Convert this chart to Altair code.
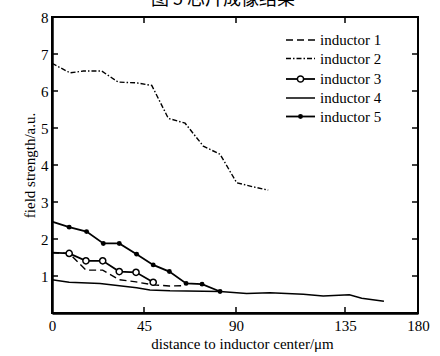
import altair as alt
import pandas as pd

title_text = "图 5 芯片成像结果"
series_names = ["inductor 1", "inductor 2", "inductor 3", "inductor 4", "inductor 5"]

x1 = [0, 8.4, 16.6, 24.8, 32.9, 41.1, 49.5, 57.4, 64.5]
y1 = [1.63, 1.61, 1.16, 1.16, 0.90, 0.84, 0.76, 0.73, 0.74]
x2 = [0, 8.8, 15.3, 24.3, 32.4, 41.4, 48.8, 56.9, 65.1, 74.0, 82.2, 90.3, 97.1, 103.3]
y2 = [6.75, 6.49, 6.54, 6.54, 6.24, 6.22, 6.15, 5.26, 5.13, 4.51, 4.29, 3.52, 3.41, 3.32]
x3 = [0, 8.4, 16.6, 24.8, 32.9, 41.1, 49.5]
y3 = [1.63, 1.61, 1.41, 1.41, 1.12, 1.10, 0.83]
x4 = [0, 8.4, 23.5, 41.4, 47.9, 57.7, 82.2, 94.4, 104, 117.8, 126, 137.7, 145.3, 159]
y4 = [0.90, 0.83, 0.80, 0.68, 0.62, 0.60, 0.58, 0.53, 0.55, 0.51, 0.46, 0.49, 0.40, 0.32]
x5 = [0, 8.4, 16.9, 25.1, 32.9, 41.4, 49.5, 57.4, 65.6, 73.4, 82.2]
y5 = [2.47, 2.32, 2.20, 1.88, 1.88, 1.59, 1.30, 1.12, 0.80, 0.78, 0.58]

x_tick_values = [0, 45, 90, 135, 180]
y_tick_values = [1, 2, 3, 4, 5, 6, 7, 8]
x_inner_ticks = [45, 90, 135]
y_inner_ticks = [1, 2, 3, 4, 5, 6, 7]

W, H = 366, 296
FONT = "'Liberation Serif', 'Times New Roman', Times, serif"

xs = [x1, x2, x3, x4, x5]
ys = [y1, y2, y3, y4, y5]
frames = {n: pd.DataFrame({"x": xv, "y": yv, "series": n}) for n, xv, yv in zip(series_names, xs, ys)}

xscale = alt.Scale(domain=x_tick_values, range=[0, 92, 184, 293, 366], nice=False, zero=False)
yscale = alt.Scale(domain=[0, 8], nice=False, zero=False)
xaxis = alt.Axis(values=x_tick_values, title="distance to inductor center/μm", labelPadding=5,
                 titlePadding=3, labelFlush=False, format="d", titleX=190)
yaxis = alt.Axis(values=y_tick_values, title="field strength/a.u.", labelPadding=4,
                 titlePadding=3, format="d")


def X(field="x"):
    return alt.X(f"{field}:Q", scale=xscale, axis=xaxis)


def Y(field="y"):
    return alt.Y(f"{field}:Q", scale=yscale, axis=yaxis)


styles = {
    "inductor 1": dict(strokeDash=[7, 4], strokeWidth=1.4),
    "inductor 2": dict(strokeDash=[5, 2, 1.5, 2], strokeWidth=1.4),
    "inductor 3": dict(strokeWidth=1.8),
    "inductor 4": dict(strokeWidth=1.5),
    "inductor 5": dict(strokeWidth=1.8),
}

layers = []
for n in series_names:
    layers.append(alt.Chart(frames[n]).mark_line(color="black", **styles[n]).encode(x=X(), y=Y()))

# markers (the point at the y axis itself is hidden by the axis in the original)
layers.append(alt.Chart(frames["inductor 3"].iloc[1:]).mark_point(
    shape="circle", size=38, filled=True, fill="white", stroke="black", strokeWidth=1.5, opacity=1
).encode(x=X(), y=Y()))
layers.append(alt.Chart(frames["inductor 5"].iloc[1:]).mark_point(
    shape="circle", size=24, filled=True, color="black", opacity=1
).encode(x=X(), y=Y()))

# inward ticks on all four sides
xt = pd.DataFrame({"x": x_inner_ticks})
yt = pd.DataFrame({"y": y_inner_ticks})
layers.append(alt.Chart(xt).mark_rule(color="black", strokeWidth=1.5).encode(x=X(), y=alt.value(H), y2=alt.value(H - 6)))
layers.append(alt.Chart(xt).mark_rule(color="black", strokeWidth=1.5).encode(x=X(), y=alt.value(0), y2=alt.value(6)))
layers.append(alt.Chart(yt).mark_rule(color="black", strokeWidth=1.5).encode(y=Y(), x=alt.value(0), x2=alt.value(6)))
layers.append(alt.Chart(yt).mark_rule(color="black", strokeWidth=1.5).encode(y=Y(), x=alt.value(W - 6), x2=alt.value(W)))

# legend
row_y = [23, 41.5, 62, 81, 99.5]
lx0, lx1, ltx = 234, 263, 268
for i, n in enumerate(series_names):
    d = pd.DataFrame({"label": [n]})
    layers.append(alt.Chart(d).mark_rule(color="black", **styles[n]).encode(
        x=alt.value(lx0), x2=alt.value(lx1), y=alt.value(row_y[i])))
    layers.append(alt.Chart(d).mark_text(font=FONT, fontSize=15, align="left", baseline="middle", color="black").encode(
        x=alt.value(ltx), y=alt.value(row_y[i]), text="label:N"))
layers.append(alt.Chart(pd.DataFrame({"label": ["inductor 3"]})).mark_point(
    shape="circle", size=38, filled=True, fill="white", stroke="black", strokeWidth=1.5, opacity=1
).encode(x=alt.value((lx0 + lx1) / 2), y=alt.value(row_y[2])))
layers.append(alt.Chart(pd.DataFrame({"label": ["inductor 5"]})).mark_point(
    shape="circle", size=24, filled=True, color="black", opacity=1
).encode(x=alt.value((lx0 + lx1) / 2), y=alt.value(row_y[4])))

# partially visible caption at the very top
layers.append(alt.Chart(pd.DataFrame({"t": [title_text]})).mark_text(
    font="Noto Sans CJK SC", fontSize=18, align="center", baseline="alphabetic", color="black"
).encode(x=alt.value(171), y=alt.value(-12), text="t:N"))

chart = alt.layer(*layers).properties(
    width=W, height=H,
    autosize=alt.AutoSizeParams(type="none"),
    padding={"left": 52, "top": 17, "right": 22, "bottom": 43},
).configure_view(stroke="black", strokeWidth=2).configure_axis(
    domainColor="black", domainWidth=2.5, labelColor="black", titleColor="black",
    labelFont=FONT, titleFont=FONT, labelFontSize=15, titleFontSize=15,
    titleFontWeight="normal", grid=False, ticks=False,
)

chart.save("out.html", embed_options={"renderer": "svg", "actions": False})
